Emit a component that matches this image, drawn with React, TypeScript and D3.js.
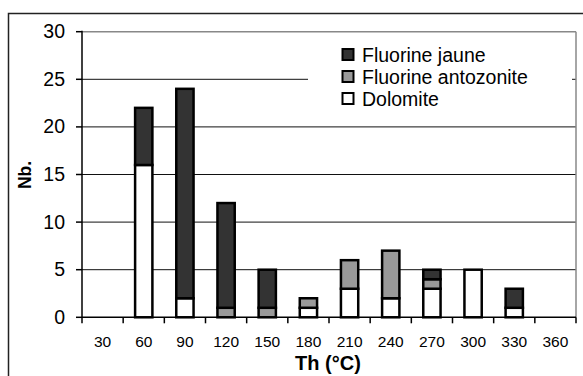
import React from "react";
import * as d3 from "d3";

const categories = ["30", "60", "90", "120", "150", "180", "210", "240", "270", "300", "330", "360"];
const dolomite = [0, 16, 2, 0, 0, 1, 3, 2, 3, 5, 1, 0];
const antozonite = [0, 0, 0, 1, 1, 1, 3, 5, 1, 0, 0, 0];
const jaune = [0, 6, 22, 11, 4, 0, 0, 0, 1, 0, 2, 0];
const yTicks = [0, 5, 10, 15, 20, 25, 30];
const seriesNames = ["Dolomite", "Fluorine antozonite", "Fluorine jaune"];
const seriesColors = ["#ffffff", "#999999", "#333333"];

const W = 583;
const H = 376;
const L = 82;
const R = 576;
const T = 31.7;
const B = 317.3;

export default function App() {
  const x = d3.scaleBand<string>().domain(categories).range([L, R]).paddingInner(0.58).paddingOuter(0.29);
  const y = d3.scaleLinear().domain([0, 30]).range([B, T]);
  const rows = categories.map((c, i) => ({ cat: c, Dolomite: dolomite[i], "Fluorine antozonite": antozonite[i], "Fluorine jaune": jaune[i] }));
  const stack = d3.stack<any>().keys(seriesNames)(rows);
  const step = x.step();
  const boundaries = d3.range(categories.length + 1).map((i) => L + i * step);
  const font = "'Liberation Sans', Arial, sans-serif";
  const legendOrder = [2, 1, 0];

  return (
    <svg width={W} height={H} style={{ position: "absolute", left: 0, top: 0, background: "#fff" }} fontFamily={font}>
      <rect x={0} y={0} width={W} height={H} fill="#fff" />
      <rect x={8.5} y={13.5} width={W + 20} height={H + 20} fill="none" stroke="#222" strokeWidth={1.5} />
      {yTicks.filter((t) => t > 0 && t < 30).map((t) => (
        <line key={t} x1={L} x2={R} y1={y(t)} y2={y(t)} stroke="#111" strokeWidth={1} />
      ))}
      <line x1={L} x2={R} y1={T} y2={T} stroke="#888" strokeWidth={1.5} />
      <line x1={R} x2={R} y1={T} y2={B} stroke="#888" strokeWidth={1.5} />
      {/* legend background */}
      <rect x={308} y={40} width={264} height={70} fill="#fff" />
      {stack.map((s, si) =>
        s.map((d, i) => {
          const h = y(d[0]) - y(d[1]);
          if (h <= 0) return null;
          return (
            <rect key={`${si}-${i}`} x={x(categories[i])!} y={y(d[1])} width={x.bandwidth()} height={h}
              fill={seriesColors[si]} stroke="#000" strokeWidth={2.5} />
          );
        })
      )}
      <line x1={L} x2={L} y1={T - 1} y2={B} stroke="#000" strokeWidth={1.5} />
      <line x1={L} x2={R} y1={B} y2={B} stroke="#000" strokeWidth={1.5} />
      {yTicks.map((t) => (
        <g key={t}>
          <line x1={L - 6} x2={L} y1={y(t)} y2={y(t)} stroke="#000" strokeWidth={1.5} />
          <text x={65} y={y(t)} dy="0.33em" textAnchor="end" fontSize={19.5} fill="#000">{t}</text>
        </g>
      ))}
      {boundaries.map((b, i) => (
        <line key={i} x1={b} x2={b} y1={B} y2={B + 6} stroke="#000" strokeWidth={1.5} />
      ))}
      {categories.map((c) => (
        <text key={c} x={x(c)! + x.bandwidth() / 2} y={347} textAnchor="middle" fontSize={15.5} fill="#000">{c}</text>
      ))}
      <text x={328} y={370} textAnchor="middle" fontSize={20} fontWeight="bold" fill="#000">Th (°C)</text>
      <text transform="translate(31,175) rotate(-90)" textAnchor="middle" fontSize={17.5} fontWeight="bold" fill="#000">Nb.</text>
      {legendOrder.map((si, k) => (
        <g key={si} transform={`translate(342,${55 + k * 22})`}>
          <rect x={0.5} y={-6} width={11} height={11} fill={seriesColors[si]} stroke="#000" strokeWidth={2} />
          <text x={20} y={0} dy="0.35em" fontSize={19.5} fill="#000">{seriesNames[si]}</text>
        </g>
      ))}
    </svg>
  );
}
